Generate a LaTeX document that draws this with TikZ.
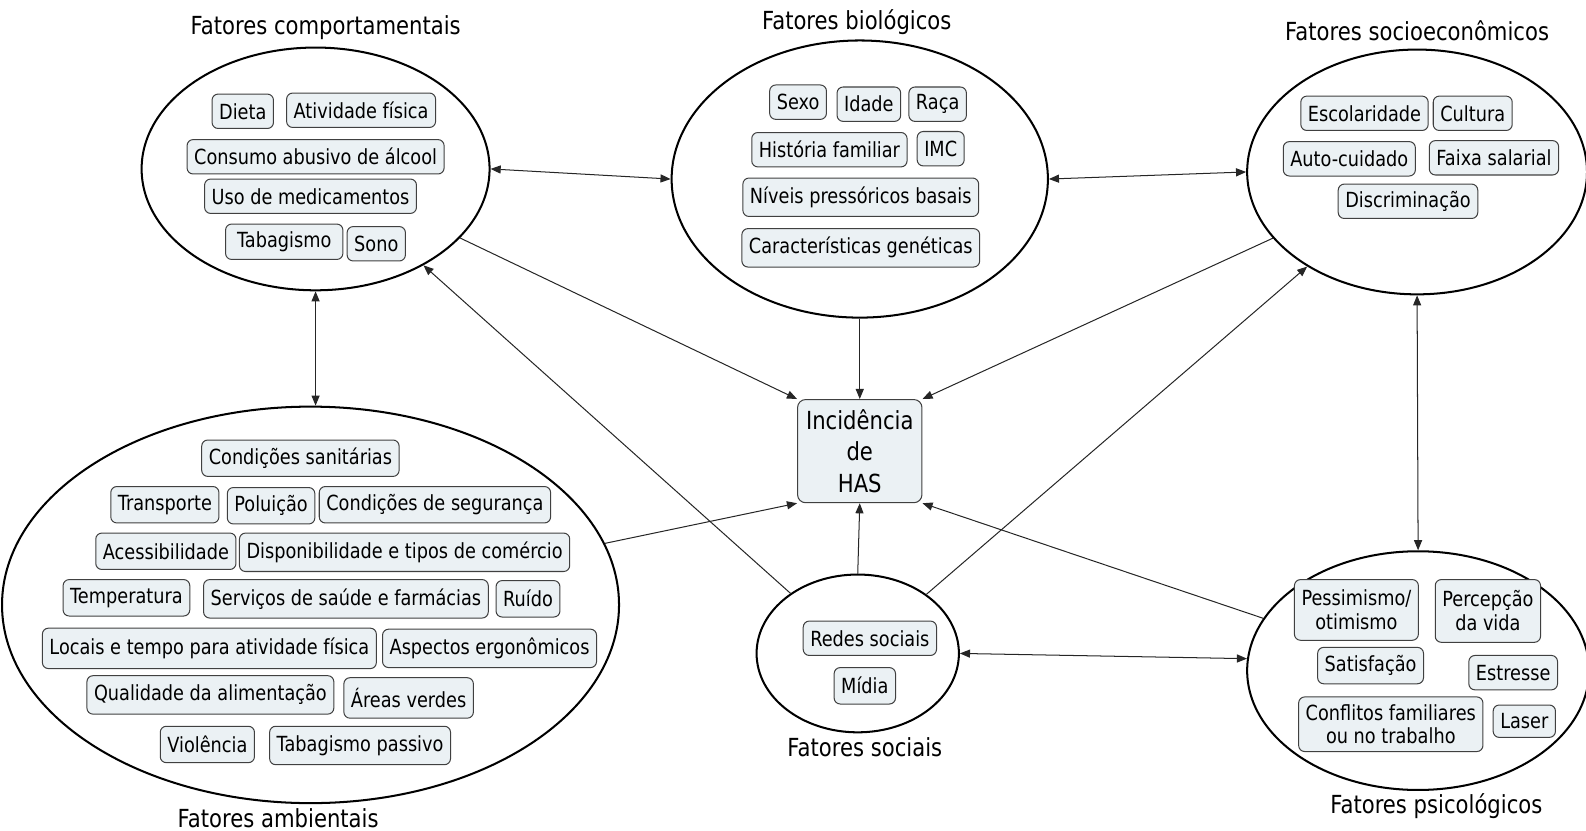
\documentclass[tikz,border=0pt]{standalone}
\usepackage{fontspec}
\setmainfont{DejaVu Sans}[FakeStretch=0.85]
\usetikzlibrary{shapes.geometric,arrows.meta}
\definecolor{caixa}{HTML}{EBF1F4}
\tikzset{
  grupo/.style={draw,ellipse,line width=1pt,inner sep=0pt},
  item/.style={draw=black!75,fill=caixa,rounded corners=3pt,line width=0.5pt,inner xsep=3.5pt,inner ysep=0pt,minimum height=17pt,font=\fontsize{10.3}{11.8}\selectfont,align=center},
  alvo/.style={draw=black!75,fill=caixa,rounded corners=4pt,line width=0.5pt,minimum width=61.5pt,minimum height=51pt,align=center,font=\fontsize{12.3}{15.7}\selectfont},
  titulo/.style={font=\fontsize{12.3}{14}\selectfont},
  seta/.style={-{Triangle[length=5pt,width=4pt]},line width=0.5pt,draw=black!85},
  duplaseta/.style={{Triangle[length=5pt,width=4pt]}-{Triangle[length=5pt,width=4pt]},line width=0.5pt,draw=black!85}
}

\begin{document}
\begin{tikzpicture}[x=0.5pt,y=-0.5pt]
\useasboundingbox (0,0) rectangle (1568,821);

% grupos de fatores
\node[grupo,minimum width=172pt,minimum height=120pt] (comp) at (312,167) {};
\node[grupo,minimum width=186pt,minimum height=137pt] (bio) at (850,177) {};
\node[grupo,minimum width=168pt,minimum height=121pt] (socio) at (1401,170) {};
\node[grupo,minimum width=305pt,minimum height=196pt] (amb) at (307,598) {};
\node[grupo,minimum width=100pt,minimum height=78pt] (soc) at (848,646) {};
\node[grupo,minimum width=169pt,minimum height=118pt] (psi) at (1402,663) {};

\node[alvo] (has) at (850,446) {Incidência\\de\\HAS};

% titulos
\node[titulo] (tcomp) at (322,27) {Fatores comportamentais};
\node[titulo] (tbio) at (847,22) {Fatores biológicos};
\node[titulo] (tsocio) at (1401,30) {Fatores socioeconômicos};
\node[titulo] (tamb) at (275,809) {Fatores ambientais};
\node[titulo] (tsoc) at (855,739) {Fatores sociais};
\node[titulo] (tpsi) at (1420,797) {Fatores psicológicos};

% comportamentais
\node[item] (dieta) at (240,110) {Dieta};
\node[item] (ativ) at (357,109) {Atividade física};
\node[item] (alcool) at (312,155) {Consumo abusivo de álcool};
\node[item] (medic) at (307,194) {Uso de medicamentos};
\node[item,minimum width=58pt,minimum height=17.5pt] (tabag) at (281,239) {Tabagismo};
\node[item] (sono) at (372,241) {Sono};

% biologicos
\node[item] (sexo) at (789,101) {Sexo};
\node[item] (idade) at (859,103) {Idade};
\node[item] (raca) at (927,103) {Raça};
\node[item] (hist) at (820,148) {História familiar};
\node[item] (imc) at (930,147) {IMC};
\node[item,minimum height=19pt] (niveis) at (851,195) {Níveis pressóricos basais};
\node[item,minimum height=19pt] (genet) at (851,245) {Características genéticas};

% socioeconomicos
\node[item] (escol) at (1349,112) {Escolaridade};
\node[item] (cult) at (1456,112) {Cultura};
\node[item] (auto) at (1334,157) {Auto-cuidado};
\node[item] (faixa) at (1477,156) {Faixa salarial};
\node[item] (discr) at (1392,199) {Discriminação};

% ambientais
\node[item,minimum height=18pt] (sanit) at (297,453) {Condições sanitárias};
\node[item,minimum height=18pt] (transp) at (163,499) {Transporte};
\node[item,minimum height=18pt] (polu) at (268,500) {Poluição};
\node[item,minimum height=18pt] (segur) at (430,499) {Condições de segurança};
\node[item,minimum height=18pt] (acess) at (164,545) {Acessibilidade};
\node[item,minimum height=19pt] (dispon) at (400,546) {Disponibilidade e tipos de comércio};
\node[item,minimum height=18pt] (temp) at (125,591) {Temperatura};
\node[item,minimum height=19pt] (servic) at (342,592) {Serviços de saúde e farmácias};
\node[item,minimum height=18pt] (ruido) at (522,592) {Ruído};
\node[item,minimum height=20pt] (locais) at (207,641) {Locais e tempo para atividade física};
\node[item,minimum height=19pt] (ergon) at (484,641) {Aspectos ergonômicos};
\node[item,minimum height=19pt] (qualid) at (208,687) {Qualidade da alimentação};
\node[item,minimum height=20pt] (verdes) at (404,690) {Áreas verdes};
\node[item,minimum height=18pt] (viol) at (205,736) {Violência};
\node[item,minimum height=19pt] (passivo) at (356,737) {Tabagismo passivo};

% sociais
\node[item,minimum height=17pt] (redes) at (860,631) {Redes sociais};
\node[item,minimum height=18pt] (midia) at (855,678) {Mídia};

% psicologicos
\node[item,minimum height=30pt] (pessim) at (1341,603) {Pessimismo/\\otimismo};
\node[item,minimum height=31pt] (percep) at (1471,604) {Percepção\\da vida};
\node[item,minimum height=18pt] (satisf) at (1355,658) {Satisfação};
\node[item,minimum height=17pt] (estres) at (1496,665) {Estresse};
\node[item,minimum height=27pt] (conflit) at (1375,716) {Conflitos familiares\\ou no trabalho};
\node[item,minimum height=16pt] (laser) at (1507,713) {Laser};

% ligacoes
\draw[duplaseta] (comp.east) -- (bio.west);
\draw[duplaseta] (bio.east) -- (socio.west);
\draw[duplaseta] (comp.south) -- (comp.south |- amb.north);
\draw[duplaseta] (socio.south) -- (psi.north);
\draw[duplaseta] (soc.east) -- (psi.176);
\draw[seta] (comp) -- (has.north west);
\draw[seta] (bio.south) -- (has.north);
\draw[seta] (socio) -- (has.north east);
\draw[seta] (amb) -- (has.south west);
\draw[seta] (soc.north) -- (has.south);
\draw[seta] (psi) -- (has.south east);
\draw[seta] (soc) -- (comp);
\draw[seta] (soc) -- (socio);

\end{tikzpicture}
\end{document}
